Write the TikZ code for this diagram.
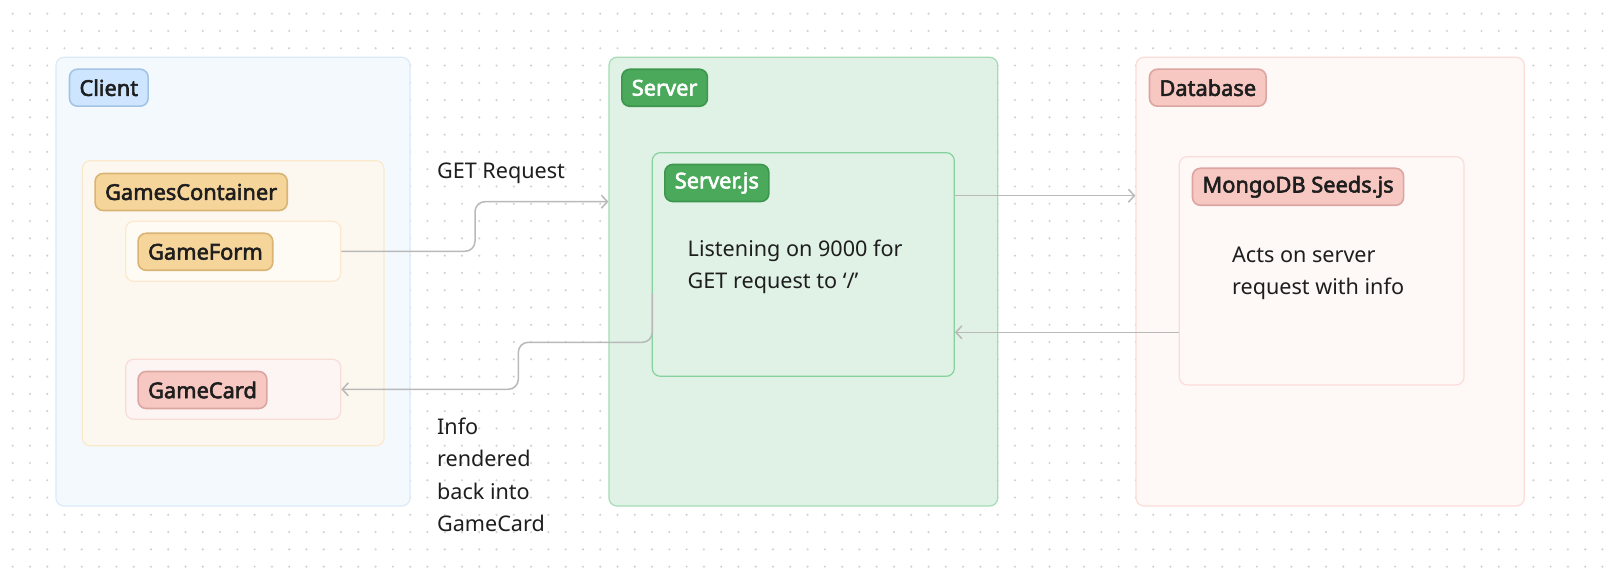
\documentclass[tikz,border=0pt]{standalone}
\usepackage{fontspec}
\setmainfont{Noto Sans}
\newfontfamily\lblfont{Noto Sans}[FakeBold=2.6]
\usetikzlibrary{arrows.meta,fit}
\definecolor{dotc}{HTML}{D2D2D2}
\definecolor{conn}{HTML}{B9B9B9}
\definecolor{cliFill}{HTML}{F4F9FE}
\definecolor{cliLine}{HTML}{DBEAF9}
\definecolor{cliLblFill}{HTML}{CDE5FF}
\definecolor{cliLblLine}{HTML}{A4C4E6}
\definecolor{orFill}{HTML}{FDF8EF}
\definecolor{orLine}{HTML}{FBE9CD}
\definecolor{orLblFill}{HTML}{F6D59B}
\definecolor{orLblLine}{HTML}{D9B474}
\definecolor{pkFill}{HTML}{FDF5F3}
\definecolor{pkLine}{HTML}{FADCD7}
\definecolor{pkLblFill}{HTML}{F7C7C2}
\definecolor{pkLblLine}{HTML}{DBA6A1}
\definecolor{grFill}{HTML}{DFF2E5}
\definecolor{grLine}{HTML}{A5DCB5}
\definecolor{grInLine}{HTML}{86D19E}
\definecolor{grLblFill}{HTML}{4AA95B}
\definecolor{grLblLine}{HTML}{3E964E}
\definecolor{dbFill}{HTML}{FEF8F7}
\definecolor{dbLine}{HTML}{FBDCD7}
\definecolor{txt}{HTML}{1E1E1E}
\tikzset{
  area/.style={draw, rounded corners=4pt, line width=0.6pt, inner sep=0pt},
  lbl/.style={draw, rounded corners=4pt, line width=0.8pt, inner xsep=5pt, inner ysep=0pt,
    minimum height=18.5pt, anchor=west, text=txt,
    font=\lblfont\fontsize{10.9}{12}\selectfont},
  note/.style={anchor=base west, inner sep=0pt, align=left, text=txt,
    font=\fontsize{10.8}{16.2}\selectfont},
  conn/.style={draw=conn, line width=0.75pt, rounded corners=5pt},
  tip/.style={-{Straight Barb[length=3pt,width=6.5pt,line width=0.75pt]}}
}
\begin{document}
\begin{tikzpicture}[x=0.5pt,y=-0.5pt]
\useasboundingbox (0,0) rectangle (1612,572);
\fill[white] (0,0) rectangle (1612,572);
\foreach \i in {0,...,92} {
  \foreach \j in {0,...,32} {
    \fill[dotc] (12.7+\i*17.28,13.7+\j*17.28) circle (0.6pt);
  }
}
% outer areas
\node[area, fill=cliFill, draw=cliLine, fit={(56,57.3) (410,506)}] (client) {};
\node[area, fill=grFill, draw=grLine, fit={(609,57.3) (997.7,506)}] (server) {};
\node[area, fill=dbFill, draw=dbLine, fit={(1136,57.3) (1524.3,506)}] (database) {};
% inner areas
\node[area, fill=orFill, draw=orLine, fit={(82.3,160.7) (384,445.7)}] (gc) {};
\node[area, fill=orFill!70!white, draw=orLine, fit={(125.7,221.3) (340.7,281.3)}] (gameform) {};
\node[area, fill=pkFill, draw=pkLine, fit={(125.7,359.3) (340.7,419.3)}] (gamecard) {};
\node[area, fill=grFill, draw=grInLine, fit={(652.3,152.7) (954.3,376.3)}] (serverjs) {};
\node[area, fill=dbFill, draw=dbLine, fit={(1179.3,156.7) (1464,385)}] (mongo) {};
% labels
\node[lbl, fill=cliLblFill, draw=cliLblLine] (clientL) at (68.7,87.7) {Client};
\node[lbl, fill=orLblFill, draw=orLblLine] (gcL) at (94.3,192) {GamesContainer};
\node[lbl, fill=orLblFill, draw=orLblLine] (gfL) at (137.3,251.8) {GameForm};
\node[lbl, fill=pkLblFill, draw=pkLblLine] (gcardL) at (137.3,390) {GameCard};
\node[lbl, fill=grLblFill, draw=grLblLine, text=white] (serverL) at (621,87.8) {Server};
\node[lbl, fill=grLblFill, draw=grLblLine, text=white] (serverjsL) at (664,183) {Server.js};
\node[lbl, fill=pkLblFill, draw=pkLblLine] (databaseL) at (1148.7,87.7) {Database};
\node[lbl, fill=pkLblFill, draw=pkLblLine] (mongoL) at (1191.7,186.8) {MongoDB Seeds.js};
% notes (base anchor = last line's baseline)
\node[note] (listen) at (687.3,289) {Listening on 9000 for\\GET request to ‘/’};
\node[note] (acts) at (1231.7,295) {Acts on server\\request with info};
\node[note] (getlbl) at (436.7,178.3) {GET Request};
\node[note] (infolbl) at (436.7,531.7) {Info\\rendered\\back into\\GameCard};
% connectors
\coordinate (g1) at (475,201.7);
\draw[conn, tip] (gameform.east) -| (g1) -- (g1 -| server.west);
\coordinate (r0) at (652.3,293.3);
\coordinate (r1) at (518.3,342.3);
\draw[conn, tip] (r0) |- (r1) |- (gamecard.east);
\coordinate (a0) at (954.3,195.7);
\draw[conn, tip] (a0) -- (a0 -| database.west);
\coordinate (b0) at (1179.3,332.3);
\draw[conn, tip] (b0) -- (b0 -| serverjs.east);
\end{tikzpicture}
\end{document}
